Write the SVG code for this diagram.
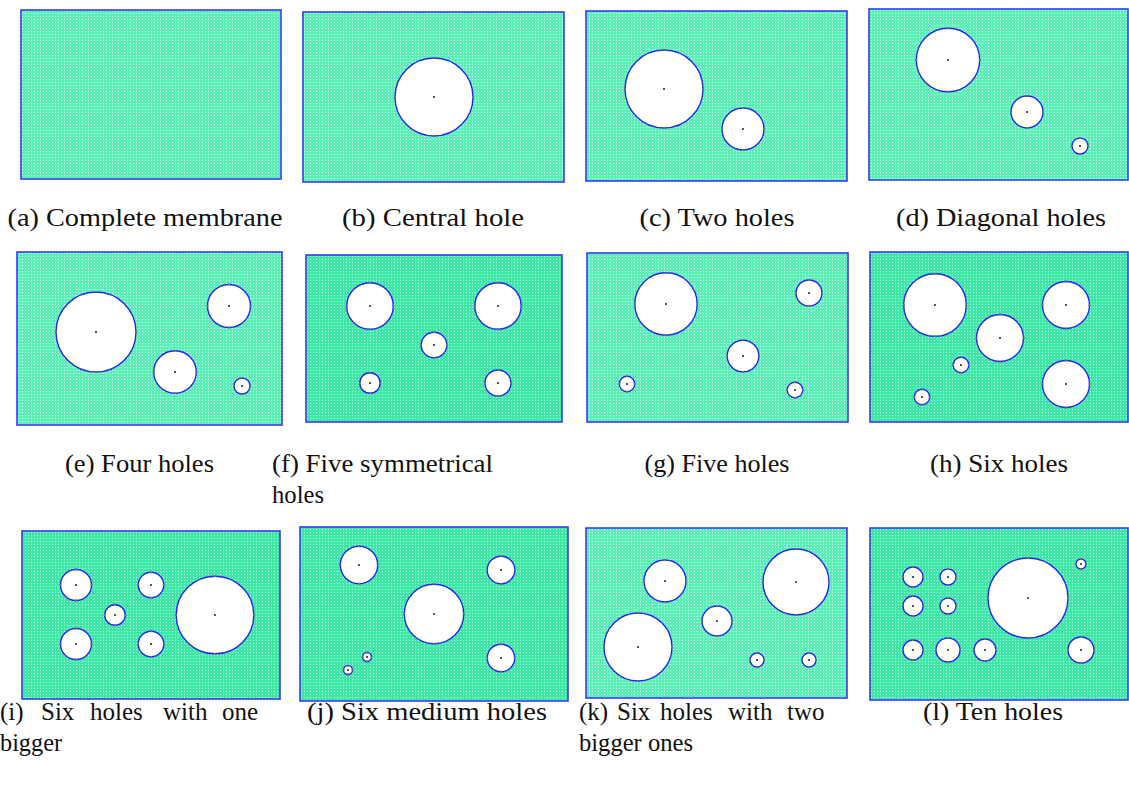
<svg xmlns="http://www.w3.org/2000/svg" width="1129" height="787" viewBox="0 0 1129 787">
<defs>
<pattern id="meshL" width="3" height="3" patternUnits="userSpaceOnUse">
<rect width="3" height="3" fill="#5cefb6"/>
<rect x="1" y="1" width="1" height="1" fill="#d8fdee"/>
</pattern>
<pattern id="meshD" width="3" height="3" patternUnits="userSpaceOnUse">
<rect width="3" height="3" fill="#3fe8a6"/>
<rect x="1" y="1" width="1" height="1" fill="#b8f8dc"/>
</pattern>
</defs>
<style>
.mL{fill:url(#meshL);stroke:#3a3af5;stroke-width:1.6}
.mD{fill:url(#meshD);stroke:#3a3af5;stroke-width:1.6}
.hs{fill:#fff;stroke:#2626f0;stroke-width:1.4}
.vx{fill:none;stroke:#707070;stroke-width:1.8;stroke-dasharray:0.01 24.99;stroke-linecap:square}
.c{fill:#555}
.t{font-family:"Liberation Serif","DejaVu Serif",serif;font-size:25px;fill:#111}
.m{text-anchor:middle}
</style>
<rect width="1129" height="787" fill="#fff"/>

<g id="panel-a">
<rect class="mL" x="21" y="10" width="260" height="169"/>
<text class="t m" x="145" y="226" textLength="275" lengthAdjust="spacingAndGlyphs">(a) Complete membrane</text>
</g>

<g id="panel-b">
<rect class="mL" x="303" y="12" width="261" height="170"/>
<g class="hs"><g id="hb">
<circle pathLength="100" cx="434" cy="97" r="39"/>
</g></g>
<use href="#hb" class="vx"/>
<rect class="c" x="433" y="96" width="2" height="2"/>
<text class="t m" x="433" y="226" textLength="182" lengthAdjust="spacingAndGlyphs">(b) Central hole</text>
</g>

<g id="panel-c">
<rect class="mL" x="586" y="11" width="261" height="170"/>
<g class="hs"><g id="hc">
<circle pathLength="100" cx="664" cy="89" r="39"/>
<circle pathLength="100" cx="743" cy="129" r="21"/>
</g></g>
<use href="#hc" class="vx"/>
<rect class="c" x="663" y="88" width="2" height="2"/>
<rect class="c" x="742" y="128" width="2" height="2"/>
<text class="t m" x="717" y="226" textLength="155" lengthAdjust="spacingAndGlyphs">(c) Two holes</text>
</g>

<g id="panel-d">
<rect class="mL" x="869" y="9" width="259" height="171"/>
<g class="hs"><g id="hd">
<circle pathLength="100" cx="948" cy="60" r="31.7"/>
<circle pathLength="100" cx="1027" cy="112" r="16"/>
<circle pathLength="100" cx="1080" cy="146" r="8"/>
</g></g>
<use href="#hd" class="vx"/>
<rect class="c" x="947" y="59" width="2" height="2"/>
<rect class="c" x="1026" y="111" width="2" height="2"/>
<rect class="c" x="1079" y="145" width="2" height="2"/>
<text class="t m" x="1001" y="226" textLength="210" lengthAdjust="spacingAndGlyphs">(d) Diagonal holes</text>
</g>

<g id="panel-e">
<rect class="mL" x="17" y="252" width="265" height="173"/>
<g class="hs"><g id="he">
<circle pathLength="100" cx="96" cy="332" r="40"/>
<circle pathLength="100" cx="229" cy="306" r="21.5"/>
<circle pathLength="100" cx="175" cy="372" r="21.3"/>
<circle pathLength="100" cx="242" cy="386" r="8"/>
</g></g>
<use href="#he" class="vx"/>
<rect class="c" x="95" y="331" width="2" height="2"/>
<rect class="c" x="228" y="305" width="2" height="2"/>
<rect class="c" x="174" y="371" width="2" height="2"/>
<rect class="c" x="241" y="385" width="2" height="2"/>
<text class="t" x="65" y="472" textLength="149" lengthAdjust="spacingAndGlyphs">(e) Four holes</text>
</g>

<g id="panel-f">
<rect class="mD" x="306" y="255" width="256" height="167"/>
<g class="hs"><g id="hf">
<circle pathLength="100" cx="370" cy="306" r="23.3"/>
<circle pathLength="100" cx="498" cy="306" r="23.2"/>
<circle pathLength="100" cx="434" cy="345" r="12.8"/>
<circle pathLength="100" cx="370" cy="383" r="10.2"/>
<circle pathLength="100" cx="498" cy="383" r="13"/>
</g></g>
<use href="#hf" class="vx"/>
<rect class="c" x="369" y="305" width="2" height="2"/>
<rect class="c" x="497" y="305" width="2" height="2"/>
<rect class="c" x="433" y="344" width="2" height="2"/>
<rect class="c" x="369" y="382" width="2" height="2"/>
<rect class="c" x="497" y="382" width="2" height="2"/>
<text class="t" x="272" y="472" textLength="221" lengthAdjust="spacingAndGlyphs">(f) Five symmetrical</text>
<text class="t" x="272" y="503" textLength="52" lengthAdjust="spacingAndGlyphs">holes</text>
</g>

<g id="panel-g">
<rect class="mL" x="587" y="253" width="261" height="169"/>
<g class="hs"><g id="hg">
<circle pathLength="100" cx="666" cy="304" r="31.2"/>
<circle pathLength="100" cx="809" cy="293" r="13"/>
<circle pathLength="100" cx="743" cy="356" r="15.8"/>
<circle pathLength="100" cx="627" cy="384" r="7.7"/>
<circle pathLength="100" cx="795" cy="390" r="7.8"/>
</g></g>
<use href="#hg" class="vx"/>
<rect class="c" x="665" y="303" width="2" height="2"/>
<rect class="c" x="808" y="292" width="2" height="2"/>
<rect class="c" x="742" y="355" width="2" height="2"/>
<rect class="c" x="626" y="383" width="2" height="2"/>
<rect class="c" x="794" y="389" width="2" height="2"/>
<text class="t m" x="717" y="472" textLength="145" lengthAdjust="spacingAndGlyphs">(g) Five holes</text>
</g>

<g id="panel-h">
<rect class="mD" x="870" y="252" width="258" height="170"/>
<g class="hs"><g id="hh">
<circle pathLength="100" cx="935" cy="305" r="31.3"/>
<circle pathLength="100" cx="1066" cy="305" r="23.5"/>
<circle pathLength="100" cx="1000" cy="338" r="23.5"/>
<circle pathLength="100" cx="1066" cy="384" r="23.5"/>
<circle pathLength="100" cx="961" cy="365" r="7.8"/>
<circle pathLength="100" cx="922" cy="397" r="7.7"/>
</g></g>
<use href="#hh" class="vx"/>
<rect class="c" x="934" y="304" width="2" height="2"/>
<rect class="c" x="1065" y="304" width="2" height="2"/>
<rect class="c" x="999" y="337" width="2" height="2"/>
<rect class="c" x="1065" y="383" width="2" height="2"/>
<rect class="c" x="960" y="364" width="2" height="2"/>
<rect class="c" x="921" y="396" width="2" height="2"/>
<text class="t m" x="999" y="472" textLength="138" lengthAdjust="spacingAndGlyphs">(h) Six holes</text>
</g>

<g id="panel-i">
<rect class="mD" x="22" y="531" width="258" height="168"/>
<g class="hs"><g id="hi">
<circle pathLength="100" cx="76" cy="585" r="15.5"/>
<circle pathLength="100" cx="76" cy="644" r="15.5"/>
<circle pathLength="100" cx="115" cy="615" r="10.3"/>
<circle pathLength="100" cx="151" cy="585" r="12.7"/>
<circle pathLength="100" cx="151" cy="644" r="12.8"/>
<circle pathLength="100" cx="215" cy="615" r="38.8"/>
</g></g>
<use href="#hi" class="vx"/>
<rect class="c" x="75" y="584" width="2" height="2"/>
<rect class="c" x="75" y="643" width="2" height="2"/>
<rect class="c" x="114" y="614" width="2" height="2"/>
<rect class="c" x="150" y="584" width="2" height="2"/>
<rect class="c" x="150" y="643" width="2" height="2"/>
<rect class="c" x="214" y="614" width="2" height="2"/>
<text class="t" y="720"><tspan x="0">(i)</tspan><tspan x="41">Six</tspan><tspan x="90">holes</tspan><tspan x="163">with</tspan><tspan x="222">one</tspan></text>
<text class="t" x="0" y="751" textLength="62" lengthAdjust="spacingAndGlyphs">bigger</text>
</g>

<g id="panel-j">
<rect class="mD" x="300" y="527" width="268" height="174"/>
<g class="hs"><g id="hj">
<circle pathLength="100" cx="359" cy="565" r="18.7"/>
<circle pathLength="100" cx="501" cy="570" r="13.8"/>
<circle pathLength="100" cx="434" cy="614" r="29.7"/>
<circle pathLength="100" cx="501" cy="658" r="13.7"/>
<circle pathLength="100" cx="367" cy="657" r="4.5"/>
<circle pathLength="100" cx="348" cy="670" r="4.5"/>
</g></g>
<use href="#hj" class="vx"/>
<rect class="c" x="358" y="564" width="2" height="2"/>
<rect class="c" x="500" y="569" width="2" height="2"/>
<rect class="c" x="433" y="613" width="2" height="2"/>
<rect class="c" x="500" y="657" width="2" height="2"/>
<rect class="c" x="366" y="656" width="2" height="2"/>
<rect class="c" x="347" y="669" width="2" height="2"/>
<text class="t m" x="427" y="720" textLength="240" lengthAdjust="spacingAndGlyphs">(j) Six medium holes</text>
</g>

<g id="panel-k">
<rect class="mL" x="586" y="528" width="261" height="170"/>
<g class="hs"><g id="hk">
<circle pathLength="100" cx="665" cy="581" r="21"/>
<circle pathLength="100" cx="796" cy="582" r="33"/>
<circle pathLength="100" cx="717" cy="621" r="15"/>
<circle pathLength="100" cx="638" cy="647" r="34"/>
<circle pathLength="100" cx="757" cy="660" r="7"/>
<circle pathLength="100" cx="809" cy="660" r="7"/>
</g></g>
<use href="#hk" class="vx"/>
<rect class="c" x="664" y="580" width="2" height="2"/>
<rect class="c" x="795" y="581" width="2" height="2"/>
<rect class="c" x="716" y="620" width="2" height="2"/>
<rect class="c" x="637" y="646" width="2" height="2"/>
<rect class="c" x="756" y="659" width="2" height="2"/>
<rect class="c" x="808" y="659" width="2" height="2"/>
<text class="t" y="720"><tspan x="579">(k)</tspan><tspan x="617">Six</tspan><tspan x="660">holes</tspan><tspan x="728">with</tspan><tspan x="787">two</tspan></text>
<text class="t" x="579" y="751" textLength="114" lengthAdjust="spacingAndGlyphs">bigger ones</text>
</g>

<g id="panel-l">
<rect class="mD" x="870" y="528" width="258" height="172"/>
<g class="hs"><g id="hl">
<circle pathLength="100" cx="913" cy="577" r="10"/>
<circle pathLength="100" cx="948" cy="577" r="8"/>
<circle pathLength="100" cx="913" cy="606" r="10"/>
<circle pathLength="100" cx="948" cy="606" r="8"/>
<circle pathLength="100" cx="1028" cy="598" r="40"/>
<circle pathLength="100" cx="1081" cy="564" r="5"/>
<circle pathLength="100" cx="913" cy="650" r="10"/>
<circle pathLength="100" cx="948" cy="650" r="12"/>
<circle pathLength="100" cx="985" cy="650" r="11"/>
<circle pathLength="100" cx="1081" cy="650" r="13"/>
</g></g>
<use href="#hl" class="vx"/>
<rect class="c" x="912" y="576" width="2" height="2"/>
<rect class="c" x="947" y="576" width="2" height="2"/>
<rect class="c" x="912" y="605" width="2" height="2"/>
<rect class="c" x="947" y="605" width="2" height="2"/>
<rect class="c" x="1027" y="597" width="2" height="2"/>
<rect class="c" x="1080" y="563" width="2" height="2"/>
<rect class="c" x="912" y="649" width="2" height="2"/>
<rect class="c" x="947" y="649" width="2" height="2"/>
<rect class="c" x="984" y="649" width="2" height="2"/>
<rect class="c" x="1080" y="649" width="2" height="2"/>
<text class="t m" x="993" y="720" textLength="140" lengthAdjust="spacingAndGlyphs">(l) Ten holes</text>
</g>

<g id="connectors"/>
</svg>
